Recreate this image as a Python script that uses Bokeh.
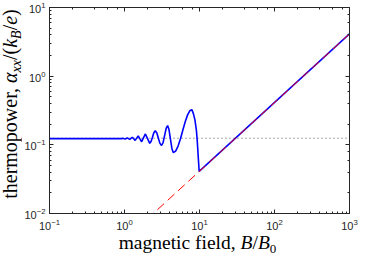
from bokeh.plotting import figure
from bokeh.models import LogAxis, Range1d, CustomJSTickFormatter, Div
from bokeh.layouts import row, column
from bokeh.embed import file_html
from bokeh.resources import INLINE

# ---- data ----
field_B = [0.1, 0.3, 0.6, 0.85, 0.92, 0.956, 1.019, 1.092, 1.175, 1.272, 1.387,
           1.524, 1.605, 1.692, 1.79, 1.90, 2.03, 2.17, 2.26, 2.36, 2.46, 2.57,
           2.70, 2.83, 2.97, 3.12, 3.27, 3.43, 3.59, 3.76, 3.92, 4.10, 4.29, 4.48,
           4.81, 5.18, 5.59, 6.00, 6.45, 6.94, 7.42, 7.9, 8.27, 8.69, 9.11, 9.38,
           9.66, 9.9, 1000.0]
alpha_xx = [0.123, 0.123, 0.123, 0.123, 0.123, 0.125, 0.121, 0.126, 0.120, 0.129,
            0.116, 0.135, 0.122, 0.111, 0.126, 0.144, 0.123, 0.105, 0.112, 0.129,
            0.150, 0.160, 0.149, 0.125, 0.105, 0.098, 0.108, 0.137, 0.173, 0.191,
            0.167, 0.121, 0.088, 0.077, 0.081, 0.096, 0.124, 0.164, 0.217, 0.273,
            0.313, 0.326, 0.287, 0.231, 0.160, 0.105, 0.062, 0.041, 4.13]

asym_B = [2.0, 1000.0]
asym_alpha = [0.00826, 4.13]

zero_B = [0.1, 1000.0]
zero_alpha = [0.125, 0.125]

x_title_html = "magnetic field, <i>B</i>/<i>B</i><span style='font-size:13px;vertical-align:-4px'>0</span>"
y_title_html = ("thermopower, <i>\u03b1</i><span style='font-size:14px;vertical-align:-4px'><i>xx</i></span>"
                "/(<i>k</i><span style='font-size:14px;vertical-align:-4px'><i>B</i></span>/<i>e</i>)")

# ---- figure ----
p = figure(width=337, height=233, x_axis_type="log", y_axis_type="log",
           x_range=Range1d(0.1, 1000), y_range=Range1d(0.01, 10),
           output_backend="svg", toolbar_location=None,
           min_border_left=25, min_border_right=9, min_border_top=7,
           min_border_bottom=20)
p.grid.visible = False
p.background_fill_color = "white"
p.border_fill_color = "white"
p.outline_line_color = "#262626"
p.outline_line_width = 1

blank = CustomJSTickFormatter(code="return ''")
p.add_layout(LogAxis(formatter=blank), "above")
p.add_layout(LogAxis(formatter=blank), "right")

for ax in p.axis:
    ax.axis_line_color = "#262626"
    ax.major_tick_line_color = "#262626"
    ax.minor_tick_line_color = "#262626"
    ax.major_tick_in = 4
    ax.major_tick_out = 0
    ax.minor_tick_in = 2
    ax.minor_tick_out = 0
    ax.major_label_text_font = "Liberation Sans"
    ax.major_label_text_font_size = "11px"
    ax.major_label_text_color = "#262626"

for ax in (p.above[0], p.right[0]):
    ax.major_label_text_font_size = "1px"
    ax.major_label_standoff = 0

p.xaxis[0].major_label_standoff = 6
p.yaxis[0].major_label_standoff = 4

p.line(zero_B, zero_alpha, line_color="#555555", line_width=1, line_dash="1 3")
p.line(field_B, alpha_xx, line_color="#0000ff", line_width=1.6)
p.line(asym_B, asym_alpha, line_color="#ff0000", line_width=1, line_dash="9 5")

# ---- axis titles (rich text) ----
ydiv = Div(width=21, height=252, margin=0,
           text=("<div style=\"font-family:'Liberation Serif';font-size:20px;color:black;"
                 "white-space:nowrap;width:210px;height:20px;line-height:20px;"
                 "text-align:center;transform:translate(-95px,94px) rotate(-90deg);\">"
                 + y_title_html + "</div>"))
xdiv = Div(width=337, height=19, margin=0,
           text=("<div style=\"font-family:'Liberation Serif';font-size:19.5px;color:black;"
                 "white-space:nowrap;margin-left:25px;width:303px;height:19px;"
                 "line-height:19px;text-align:center;\">" + x_title_html + "</div>"))

layout = row(ydiv, column(p, xdiv))

open("out.html", "w").write(file_html(layout, INLINE))
